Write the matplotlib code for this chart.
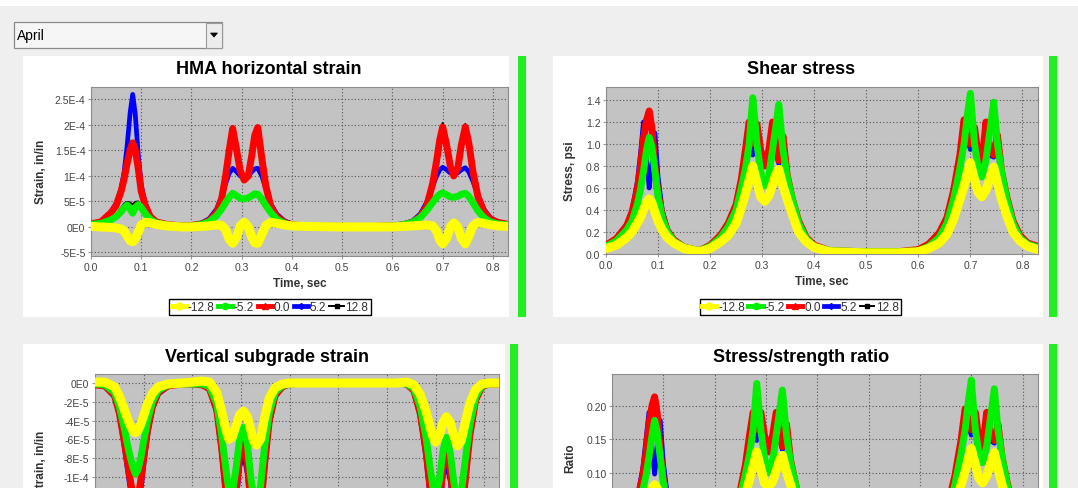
import numpy as np
import matplotlib
matplotlib.use("Agg")
import matplotlib.pyplot as plt
from matplotlib.patches import Rectangle, Polygon
from matplotlib.lines import Line2D
from matplotlib.ticker import FuncFormatter, MultipleLocator, FixedLocator

plt.rcParams["font.family"] = ["Liberation Sans", "DejaVu Sans"]

W, H = 1078, 489

month = "April"
series_names = ["-12.8", "-5.2", "0.0", "5.2", "12.8"]

time_s = [0.000, 0.020, 0.040, 0.050, 0.060, 0.066, 0.072, 0.078, 0.083, 0.088,
          0.094, 0.100, 0.108, 0.118, 0.130, 0.150, 0.180, 0.200, 0.220, 0.235,
          0.250, 0.260, 0.268, 0.275, 0.282, 0.290, 0.297, 0.305, 0.313, 0.320,
          0.326, 0.332, 0.340, 0.348, 0.358, 0.370, 0.385, 0.400, 0.430, 0.500,
          0.560, 0.600, 0.620, 0.640, 0.655, 0.668, 0.680, 0.688, 0.694, 0.700,
          0.708, 0.715, 0.722, 0.730, 0.737, 0.745, 0.752, 0.760, 0.770, 0.782,
          0.795, 0.810, 0.830]

# HMA horizontal strain, microstrain (1E-6 in/in)
hma_m128 = [1, 0, -1, -2, -4, -8, -18, -27, -29, -24, -10, 4, 9, 8, 5, 2,
            0, 0,
            1, 2, 4, 3, -5, -24, -32, -20, 2, 9, 0, -20, -31, -32, -15, 3, 9, 7, 4, 2, 1,
            0, 0, 0,
            1, 2, 3, 4, 2, -8, -25, -33, -22, 0, 8, 0, -22, -33, -18, 2, 9, 7, 4, 2, 1]
hma_m52 = [5, 7, 14, 20, 30, 38, 43, 35, 27, 38, 44, 38, 26, 15, 8, 4,
           1, 2,
           5, 10, 22, 35, 48, 58, 66, 61, 56, 55, 57, 61, 65, 64, 55, 42, 28, 15, 7, 3, 1,
           0, 0, 2,
           4, 9, 18, 32, 48, 58, 64, 67, 63, 59, 58, 60, 64, 66, 60, 48, 32, 18, 10, 6, 4]
hma_0 = [6, 10, 28, 42, 70, 95, 125, 152, 165, 152, 115, 70, 42, 20, 10, 5,
         2, 3,
         6, 12, 28, 55, 100, 150, 193, 150, 110, 92, 100, 140, 180, 195, 135, 80, 40, 20, 9, 4, 2,
         1, 1, 2,
         4, 9, 20, 40, 85, 130, 170, 196, 160, 120, 100, 115, 160, 196, 165, 110, 60, 30, 15, 9, 5]
hma_p52 = [6, 11, 30, 46, 76, 108, 160, 225, 260, 222, 142, 82, 46, 22, 11, 5,
           2, 3,
           8, 16, 35, 60, 85, 105, 115, 108, 100, 98, 100, 108, 114, 115, 100, 75, 45, 25, 12, 6, 2,
           1, 1, 2,
           5, 12, 25, 48, 80, 100, 112, 117, 112, 106, 104, 106, 112, 116, 108, 90, 62, 35, 18, 10, 6]
hma_p128 = [5, 8, 16, 24, 38, 46, 49, 48, 44, 49, 50, 42, 28, 15, 8, 4,
            2, 3,
            6, 13, 30, 58, 102, 152, 198, 152, 112, 94, 102, 142, 182, 198, 138, 82, 42, 21, 9, 4, 2,
            1, 1, 2,
            4, 10, 21, 42, 88, 134, 174, 204, 163, 122, 102, 118, 163, 202, 168, 112, 62, 31, 15, 9, 5]

# Shear stress, psi
shear_m128 = [0.05, 0.08, 0.15, 0.2, 0.28, 0.33, 0.4, 0.47, 0.5, 0.47, 0.38, 0.3, 0.22, 0.15, 0.1, 0.05,
              0.02, 0.05,
              0.11, 0.17, 0.28, 0.42, 0.55, 0.67, 0.8, 0.65, 0.52, 0.48, 0.53, 0.63, 0.72, 0.77, 0.62, 0.5, 0.36, 0.2, 0.11, 0.06, 0.02,
              0.01, 0.01, 0.02,
              0.05, 0.1, 0.18, 0.32, 0.5, 0.62, 0.73, 0.83, 0.68, 0.56, 0.52, 0.58, 0.68, 0.79, 0.65, 0.5, 0.35, 0.2, 0.12, 0.07, 0.04]
shear_m52 = [0.07, 0.12, 0.22, 0.3, 0.45, 0.58, 0.75, 0.95, 1.06, 0.98, 0.75, 0.52, 0.33, 0.2, 0.12, 0.06,
             0.03, 0.07,
             0.15, 0.25, 0.4, 0.6, 0.78, 1.0, 1.42, 1.0, 0.75, 0.62, 0.72, 0.95, 1.15, 1.36, 0.95, 0.7, 0.5, 0.28, 0.14, 0.07, 0.03,
             0.02, 0.02, 0.03,
             0.07, 0.15, 0.28, 0.5, 0.78, 1.0, 1.25, 1.46, 1.0, 0.78, 0.7, 0.85, 1.1, 1.38, 1.0, 0.75, 0.5, 0.28, 0.15, 0.09, 0.06]
shear_0 = [0.08, 0.14, 0.26, 0.38, 0.58, 0.78, 1.05, 1.22, 1.3, 1.15, 0.8, 0.55, 0.35, 0.21, 0.13, 0.06,
           0.03, 0.08,
           0.17, 0.28, 0.45, 0.68, 0.95, 1.2, 1.0, 1.18, 0.95, 0.8, 0.95, 1.2, 1.0, 0.85, 1.07, 0.72, 0.5, 0.3, 0.15, 0.08, 0.03,
           0.02, 0.02, 0.04,
           0.09, 0.19, 0.33, 0.58, 0.9, 1.22, 1.1, 1.0, 1.15, 0.9, 0.82, 1.2, 0.95, 0.9, 1.08, 0.75, 0.52, 0.3, 0.17, 0.1, 0.07]
shear_p52 = [0.08, 0.14, 0.27, 0.4, 0.65, 0.9, 1.2, 0.85, 0.6, 0.8, 1.1, 0.7, 0.4, 0.23, 0.14, 0.07,
             0.03, 0.08,
             0.17, 0.29, 0.46, 0.68, 0.93, 1.15, 0.9, 1.1, 0.9, 0.82, 0.9, 1.12, 0.95, 0.82, 1.02, 0.72, 0.5, 0.3, 0.15, 0.08, 0.03,
             0.02, 0.02, 0.04,
             0.09, 0.19, 0.34, 0.58, 0.88, 1.15, 1.05, 0.95, 1.1, 0.88, 0.82, 1.12, 0.9, 0.88, 1.03, 0.75, 0.53, 0.31, 0.18, 0.1, 0.07]
shear_p128 = [0.08, 0.14, 0.27, 0.4, 0.63, 0.88, 1.15, 0.85, 0.62, 0.82, 1.05, 0.68, 0.4, 0.23, 0.14, 0.07,
              0.03, 0.08,
              0.17, 0.29, 0.46, 0.68, 0.92, 1.12, 0.9, 1.08, 0.9, 0.82, 0.9, 1.1, 0.95, 0.82, 1.0, 0.72, 0.5, 0.3, 0.15, 0.08, 0.03,
              0.02, 0.02, 0.04,
              0.09, 0.19, 0.34, 0.58, 0.88, 1.12, 1.03, 0.95, 1.08, 0.88, 0.82, 1.1, 0.9, 0.88, 1.0, 0.75, 0.53, 0.31, 0.18, 0.1, 0.07]

# Vertical subgrade strain, microstrain
sub_m128 = [1, 1, -4, -14, -28, -37, -45, -51, -53, -51, -44, -35, -22, -11, -4, -1,
            0, 1,
            2, 1, -10, -30, -48, -60, -58, -45, -34, -30, -36, -50, -62, -66, -60, -38, -16, -5, -1, 0, 0,
            0, 0, 0,
            0, 1, -2, -12, -30, -46, -57, -63, -55, -42, -36, -42, -56, -67, -62, -44, -22, -7, -1, 0, 0]
sub_m52 = [-1, -2, -10, -25, -48, -64, -78, -90, -97, -93, -80, -62, -40, -20, -8, -2,
           -1, -1,
           -1, -4, -22, -55, -88, -115, -118, -90, -60, -47, -65, -100, -122, -128, -110, -70, -32, -10, -3, -1, 0,
           0, 0, 0,
           0, -1, -6, -25, -58, -88, -110, -122, -102, -72, -58, -75, -105, -128, -120, -85, -45, -15, -3, -1, 0]
sub_0 = [-2, -3, -13, -32, -62, -82, -102, -120, -130, -124, -104, -80, -50, -25, -10, -3,
         -1, -1,
         -2, -6, -28, -68, -110, -145, -150, -115, -78, -63, -85, -128, -155, -160, -138, -88, -40, -13, -4, -1, 0,
         0, 0, 0,
         0, -1, -8, -32, -72, -110, -138, -152, -128, -88, -70, -92, -130, -160, -150, -106, -56, -18, -4, -1, -1]
sub_p52 = [-2, -4, -15, -35, -68, -90, -112, -132, -145, -138, -116, -88, -56, -28, -12, -4,
           -1, -1,
           -2, -7, -32, -75, -120, -155, -162, -128, -90, -75, -97, -140, -165, -170, -150, -98, -45, -15, -5, -1, 0,
           0, 0, 0,
           0, -2, -9, -36, -80, -120, -150, -162, -140, -100, -85, -105, -142, -170, -160, -115, -60, -20, -5, -1, -1]
sub_p128 = [-2, -4, -14, -34, -66, -87, -108, -128, -140, -133, -112, -85, -54, -27, -11, -4,
            -1, -1,
            -2, -7, -30, -72, -116, -150, -157, -124, -86, -72, -94, -136, -160, -165, -145, -95, -43, -14, -4, -1, 0,
            0, 0, 0,
            0, -1, -9, -35, -78, -116, -146, -158, -136, -96, -82, -102, -138, -165, -156, -112, -58, -19, -5, -1, -1]

# Stress/strength ratio
ratio_m128 = [0.008, 0.013, 0.025, 0.033, 0.046, 0.054, 0.066, 0.077, 0.082, 0.077, 0.062, 0.049, 0.036, 0.025, 0.016, 0.008,
              0.003, 0.008,
              0.018, 0.028, 0.046, 0.069, 0.09, 0.11, 0.131, 0.107, 0.085, 0.079, 0.087, 0.103, 0.118, 0.126, 0.102, 0.082, 0.059, 0.033, 0.018, 0.01, 0.003,
              0.002, 0.002, 0.003,
              0.008, 0.016, 0.03, 0.052, 0.082, 0.102, 0.12, 0.136, 0.112, 0.092, 0.085, 0.095, 0.112, 0.13, 0.107, 0.082, 0.057, 0.033, 0.02, 0.011, 0.007]
ratio_m52 = [0.011, 0.02, 0.036, 0.049, 0.074, 0.095, 0.123, 0.156, 0.178, 0.161, 0.123, 0.085, 0.054, 0.033, 0.02, 0.01,
             0.005, 0.011,
             0.025, 0.041, 0.066, 0.098, 0.128, 0.164, 0.233, 0.164, 0.123, 0.1, 0.118, 0.156, 0.189, 0.223, 0.156, 0.115, 0.082, 0.046, 0.023, 0.011, 0.005,
             0.003, 0.003, 0.005,
             0.011, 0.025, 0.046, 0.082, 0.128, 0.164, 0.205, 0.238, 0.164, 0.128, 0.115, 0.139, 0.18, 0.225, 0.164, 0.123, 0.082, 0.046, 0.025, 0.015, 0.01]
ratio_0 = [0.013, 0.023, 0.043, 0.062, 0.095, 0.128, 0.172, 0.2, 0.213, 0.189, 0.131, 0.09, 0.057, 0.034, 0.021, 0.01,
           0.005, 0.013,
           0.028, 0.046, 0.074, 0.112, 0.156, 0.19, 0.164, 0.19, 0.156, 0.131, 0.156, 0.19, 0.164, 0.139, 0.172, 0.118, 0.082, 0.049, 0.025, 0.013, 0.005,
           0.003, 0.003, 0.007,
           0.015, 0.031, 0.054, 0.095, 0.148, 0.195, 0.18, 0.164, 0.19, 0.148, 0.134, 0.19, 0.156, 0.148, 0.172, 0.123, 0.085, 0.049, 0.028, 0.016, 0.011]
ratio_p52 = [0.013, 0.023, 0.044, 0.066, 0.107, 0.148, 0.19, 0.139, 0.098, 0.131, 0.178, 0.115, 0.066, 0.038, 0.023, 0.011,
             0.005, 0.013,
             0.028, 0.048, 0.075, 0.112, 0.153, 0.189, 0.148, 0.18, 0.148, 0.134, 0.148, 0.184, 0.156, 0.134, 0.167, 0.118, 0.082, 0.049, 0.025, 0.013, 0.005,
             0.003, 0.003, 0.007,
             0.015, 0.031, 0.056, 0.095, 0.144, 0.189, 0.172, 0.156, 0.18, 0.144, 0.134, 0.184, 0.148, 0.144, 0.169, 0.123, 0.087, 0.051, 0.03, 0.016, 0.011]
ratio_p128 = [0.013, 0.023, 0.044, 0.066, 0.103, 0.144, 0.189, 0.139, 0.102, 0.134, 0.172, 0.112, 0.066, 0.038, 0.023, 0.011,
              0.005, 0.013,
              0.028, 0.048, 0.075, 0.112, 0.151, 0.184, 0.148, 0.177, 0.148, 0.134, 0.148, 0.18, 0.156, 0.134, 0.164, 0.118, 0.082, 0.049, 0.025, 0.013, 0.005,
              0.003, 0.003, 0.007,
              0.015, 0.031, 0.056, 0.095, 0.144, 0.184, 0.169, 0.156, 0.177, 0.144, 0.134, 0.18, 0.148, 0.144, 0.164, 0.123, 0.087, 0.051, 0.03, 0.016, 0.011]

# look of the five series, in legend order
COLORS = ["#ffff00", "#00f000", "#ff0000", "#0000ff", "#000000"]
WIDTHS = [6.5, 5.0, 5.0, 3.4, 1.4]
ZORDER = [6, 5, 4, 3, 2]
MARKERS = ["o", "o", "^", "D", "s"]
MSIZES = [5, 4.5, 4, 3, 2.5]


def fig_rect(x0, y0, x1, y1):
    """pixel box (top-left origin) -> figure fraction rect"""
    return [x0 / W, 1 - y1 / H, (x1 - x0) / W, (y1 - y0) / H]


def add_box(fig, x0, y0, x1, y1, fc, ec="none", lw=0.0, z=-5):
    r = fig_rect(x0, y0, x1, y1)
    fig.add_artist(Rectangle((r[0], r[1]), r[2], r[3], transform=fig.transFigure,
                             facecolor=fc, edgecolor=ec, linewidth=lw, zorder=z))


def sci(v, _pos=None):
    if abs(v) < 1e-12:
        return "0E0"
    e = int(np.floor(np.log10(abs(v)) + 1e-9))
    m = f"{v / 10 ** e:.1f}".rstrip("0").rstrip(".")
    return f"{m}E{e}"


def fpx(x, y):
    return x / W, 1 - y / H


def panel(fig, ax_px, title, title_xy, ylabel, ylabel_xy, curves, ylim, yticks,
          yfmt, legend_xy):
    ax = fig.add_axes(fig_rect(*ax_px))
    ax.set_facecolor("#c3c3c3")
    for i in [4, 3, 2, 1, 0]:
        ax.plot(time_s, curves[i], color=COLORS[i], lw=WIDTHS[i], zorder=ZORDER[i],
                solid_joinstyle="round", solid_capstyle="round")
    ax.set_xlim(0, 0.83)
    ax.set_ylim(*ylim)
    ax.xaxis.set_major_locator(MultipleLocator(0.1))
    ax.xaxis.set_major_formatter(FuncFormatter(lambda v, p: f"{v:.1f}"))
    ax.yaxis.set_major_locator(FixedLocator(yticks))
    ax.yaxis.set_major_formatter(FuncFormatter(yfmt))
    ax.grid(True, color="#555555", linestyle=(0, (1, 2)), linewidth=0.8)
    ax.set_axisbelow(True)
    ax.tick_params(labelsize=7.5, labelcolor="#444444", color="#999999",
                   length=2, width=0.8, pad=2)
    for s in ax.spines.values():
        s.set_color("#8c8c8c")
        s.set_linewidth(0.8)

    fig.text(*fpx(*title_xy), title, ha="center", va="center",
             fontsize=13, fontweight="bold", color="black")
    fig.text(*fpx(*ylabel_xy), ylabel, ha="center", va="center", rotation=90,
             fontsize=8.5, fontweight="bold", color="#333333")

    if legend_xy is None:
        # lower row is cut off by the window: its time axis is out of view
        ax.tick_params(axis="x", labelbottom=False)
        return ax

    xc = (ax_px[0] + ax_px[2]) / 2
    fig.text(*fpx(xc, ax_px[3] + 27), "Time, sec", ha="center", va="center",
             fontsize=8.5, fontweight="bold", color="#333333")
    handles = [Line2D([0], [0], color=COLORS[i], lw=min(WIDTHS[i], 3.5),
                      marker=MARKERS[i], markersize=MSIZES[i])
               for i in range(5)]
    leg = fig.legend(handles, series_names, loc="center",
                     bbox_to_anchor=fpx(*legend_xy), ncol=5, frameon=True,
                     fancybox=False, edgecolor="black", framealpha=1,
                     fontsize=8.5, handlelength=1.2, handletextpad=0.15,
                     columnspacing=0.3, borderpad=0.2, borderaxespad=0)
    leg.get_frame().set_linewidth(1.0)
    for t in leg.get_texts():
        t.set_color("#333333")
    return ax


fig = plt.figure(figsize=(W / 100, H / 100), dpi=100)
fig.patch.set_facecolor("#efefef")

# window chrome
add_box(fig, 0, 0, W, 7, "white")
add_box(fig, 23, 57, 509, 318, "white")
add_box(fig, 553, 57, 1043, 318, "white")
add_box(fig, 23, 345, 505, H + 5, "white")
add_box(fig, 553, 345, 1043, H + 5, "white")
add_box(fig, 518, 57, 526, 318, "#22ee22")
add_box(fig, 1049, 57, 1057, 318, "#22ee22")
add_box(fig, 510, 345, 518, H + 5, "#22ee22")
add_box(fig, 1049, 345, 1057, H + 5, "#22ee22")

# month selector
add_box(fig, 14, 23, 222, 49, "#f6f6f6", ec="#8a8a8a", lw=0.9, z=-4)
add_box(fig, 206, 24, 222, 49, "#ececec", ec="#9a9a9a", lw=0.8, z=-3)
tri = [fpx(210.5, 34), fpx(217.5, 34), fpx(214, 38)]
fig.add_artist(Polygon(tri, closed=True, transform=fig.transFigure,
                       facecolor="black", edgecolor="black", lw=0.5, zorder=-2))
fig.text(*fpx(17, 36.5), month, ha="left", va="center", fontsize=10, color="black")

hma = [np.array(s) * 1e-6 for s in (hma_m128, hma_m52, hma_0, hma_p52, hma_p128)]
shear = [shear_m128, shear_m52, shear_0, shear_p52, shear_p128]
sub = [np.array(s) * 1e-6 for s in (sub_m128, sub_m52, sub_0, sub_p52, sub_p128)]
ratio = [ratio_m128, ratio_m52, ratio_0, ratio_p52, ratio_p128]

panel(fig, (91, 88, 508, 257), "HMA horizontal strain", (269, 70),
      "Strain, in/in", (41, 172), hma, (-5.7e-5, 2.745e-4),
      np.arange(-5e-5, 2.6e-4, 5e-5), sci, (270, 308))
panel(fig, (606, 88, 1038, 255), "Shear stress", (801, 70),
      "Stress, psi", (570, 171), shear, (0.0, 1.518),
      np.arange(0.0, 1.41, 0.2), lambda v, p: f"{v:.1f}", (800.5, 308))
# lower row: only the ticks inside the visible window
panel(fig, (95, 375, 499, 551), "Vertical subgrade strain", (267, 357),
      "Strain, in/in", (41, 463), sub, (-1.78e-4, 9.6e-6),
      np.arange(-1e-4, 1e-6, 2e-5), sci, None)
panel(fig, (612, 375, 1038, 541), "Stress/strength ratio", (801, 357),
      "Ratio", (570, 458), ratio, (0.0, 0.247),
      np.arange(0.10, 0.21, 0.05), lambda v, p: f"{v:.2f}", None)

fig.savefig("out.png", dpi=100, facecolor=fig.get_facecolor())
